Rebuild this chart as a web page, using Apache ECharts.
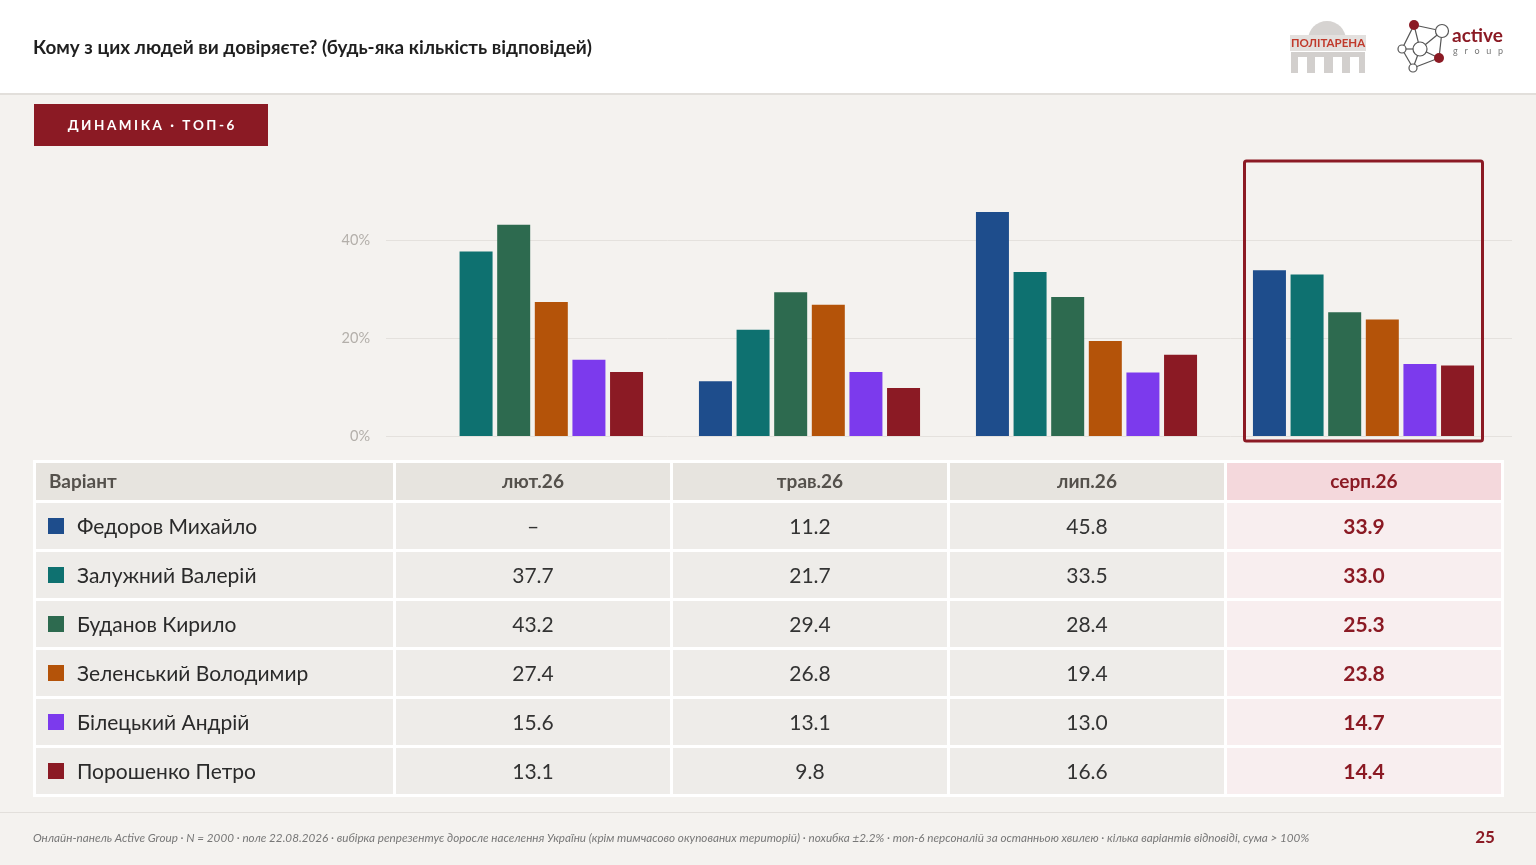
<!DOCTYPE html>
<html>
<head>
<meta charset="utf-8">
<script src="https://cdn.jsdelivr.net/npm/echarts@6/dist/echarts.min.js"></script>
<style>
  html, body { margin: 0; padding: 0; background: #f4f2ef; }
  #main { width: 1536px; height: 865px; }
</style>
</head>
<body>
<div id="main"></div>
<script>
// дані
var waves = ["лют.26", "трав.26", "лип.26", "серп.26"];
var persons = ["Федоров Михайло", "Залужний Валерій", "Буданов Кирило", "Зеленський Володимир", "Білецький Андрій", "Порошенко Петро"];
var fedorov = [null, 11.2, 45.8, 33.9];
var zaluzhnyi = [37.7, 21.7, 33.5, 33.0];
var budanov = [43.2, 29.4, 28.4, 25.3];
var zelensky = [27.4, 26.8, 19.4, 23.8];
var biletsky = [15.6, 13.1, 13.0, 14.7];
var poroshenko = [13.1, 9.8, 16.6, 14.4];
var yTicks = [0, 20, 40];

var values = [fedorov, zaluzhnyi, budanov, zelensky, biletsky, poroshenko];
var colors = ["#1e4d8c", "#0e7170", "#2d6a4f", "#b45309", "#7c3aed", "#8b1a24"];
var brand = "#8b1a24";
var font = 'Lato, "Noto Sans", sans-serif';

var chart = echarts.init(document.getElementById("main"), null);

function txt(x, y, s, st) {
  var style = Object.assign({
    text: s, fill: "#333", font: "400 21px " + font,
    textAlign: "left", textVerticalAlign: "middle", verticalAlign: "middle"
  }, st || {});
  style.align = style.textAlign;
  return { type: "text", x: x, y: y, silent: true, style: style };
}
function rect(x, y, w, h, fill, extra) {
  return Object.assign({ type: "rect", silent: true, shape: { x: x, y: y, width: w, height: h }, style: { fill: fill } }, extra || {});
}
function spaced(s, sep) { return s.split("").join(sep); }

var g = [];
// шапка
g.push(rect(0, 0, 1536, 93, "#ffffff"));
g.push(rect(0, 93, 1536, 2, "#e2dfdb"));
g.push(txt(33, 48, "Кому з цих людей ви довіряєте? (будь-яка кількість відповідей)", { fill: "#1f1f1f", font: "700 18.9px " + font }));

// логотип Політарена
g.push({ type: "sector", silent: true, shape: { cx: 1327, cy: 40, r0: 0, r: 19, startAngle: Math.PI, endAngle: 2 * Math.PI }, style: { fill: "#d6d3d1" } });
g.push(rect(1290, 35, 76, 16, "#e3e0de"));
g.push(rect(1291, 52, 74, 21, "#d2cfcd"));
[1298, 1315, 1333, 1350].forEach(function (x) { g.push(rect(x, 57, 9, 16, "#ffffff")); });
g.push(txt(1328, 43, "ПОЛІТАРЕНА", { fill: "#c0392b", font: "700 11.5px " + font, textAlign: "center" }));

// логотип active group
var nodes = [[1414, 25, 5, true], [1442, 31, 6.5, false], [1420, 49, 7, false], [1402, 49, 4, false], [1439, 58, 5, true], [1413, 68, 4, false]];
var links = [[0, 1], [0, 3], [0, 2], [1, 2], [1, 4], [2, 3], [2, 4], [3, 5], [4, 5], [2, 5]];
links.forEach(function (l) {
  g.push({ type: "line", silent: true, shape: { x1: nodes[l[0]][0], y1: nodes[l[0]][1], x2: nodes[l[1]][0], y2: nodes[l[1]][1] }, style: { stroke: "#555", lineWidth: 1.2 } });
});
nodes.forEach(function (n) {
  g.push({ type: "circle", silent: true, shape: { cx: n[0], cy: n[1], r: n[2] }, style: n[3] ? { fill: brand } : { fill: "#fff", stroke: "#555", lineWidth: 1.2 } });
});
g.push(txt(1452, 36, "active", { fill: brand, font: "700 19px " + font }));
g.push(txt(1453, 51, spaced("group", "\u2003"), { fill: "#777", font: "400 9px " + font }));

// бейдж
g.push(rect(34, 104, 234, 42, brand));
g.push(txt(151, 126, spaced("ДИНАМІКА · ТОП-6", "\u2009\u200A"), { fill: "#fff", font: "700 13.5px " + font, textAlign: "center" }));

// таблиця
var colX = [36, 396, 673, 950, 1227];
var colW = [357, 274, 274, 274, 274];
var headY = 463, headH = 37, rowY0 = 503, rowH = 46, rowGap = 3;
g.push(rect(33, 460, 1471, 337, "#ffffff"));
var headers = ["Варіант"].concat(waves);
headers.forEach(function (h, c) {
  var hi = c === waves.length;
  g.push(rect(colX[c], headY, colW[c], headH, hi ? "#f4d8dc" : "#e7e4df"));
  if (c === 0) g.push(txt(colX[c] + 13, headY + headH / 2, h, { fill: "#55514c", font: "700 19px " + font }));
  else g.push(txt(colX[c] + colW[c] / 2, headY + headH / 2, h, { fill: hi ? brand : "#55514c", font: "700 19px " + font, textAlign: "center" }));
});
persons.forEach(function (p, r) {
  var y = rowY0 + r * (rowH + rowGap);
  var cy = y + rowH / 2 + 1;
  g.push(rect(colX[0], y, colW[0], rowH, "#eeece9"));
  g.push(rect(48, cy - 9, 16, 16, colors[r]));
  g.push(txt(77, cy, p, { fill: "#2a2a2a", font: "400 21px " + font }));
  waves.forEach(function (w, c) {
    var hi = c === waves.length - 1;
    var v = values[r][c];
    g.push(rect(colX[c + 1], y, colW[c + 1], rowH, hi ? "#f8eeef" : "#eeece9"));
    g.push(txt(colX[c + 1] + colW[c + 1] / 2, cy, v == null ? "–" : v.toFixed(1), {
      fill: hi ? brand : "#333", font: (hi ? "700 " : "400 ") + "21px " + font, textAlign: "center"
    }));
  });
});

// підвал
g.push(rect(0, 812, 1536, 1, "#e2dfdb"));
g.push(txt(33, 838, "Онлайн-панель Active Group · N = 2000 · поле 22.08.2026 · вибірка репрезентує доросле населення України (крім тимчасово окупованих територій) · похибка ±2.2% · топ-6 персоналій за останньою хвилею · кілька варіантів відповіді, сума > 100%", { fill: "#777", font: "italic 400 11.7px " + font }));
g.push(txt(1485, 838, "25", { fill: brand, font: "700 17px " + font, textAlign: "center" }));

var option = {
  backgroundColor: "#f4f2ef",
  animation: false,
  textStyle: { fontFamily: font },
  grid: { left: 394, right: 34, top: 162, bottom: 429, containLabel: false },
  xAxis: {
    type: "category",
    data: waves,
    axisLine: { show: false },
    axisTick: { show: false },
    axisLabel: { show: false }
  },
  yAxis: {
    type: "value",
    min: 0,
    max: 56,
    interval: 20,
    axisLine: { show: false },
    axisTick: { show: false },
    axisLabel: {
      showMaxLabel: false,
      margin: 24,
      color: "#b3afaa",
      fontSize: 14.5,
      fontFamily: font,
      formatter: function (v) { return yTicks.indexOf(v) >= 0 ? v + "%" : ""; }
    },
    splitLine: { show: false }
  },
  series: persons.map(function (p, i) {
    return {
      name: p,
      type: "bar",
      data: values[i],
      barWidth: 33,
      barGap: "14%",
      silent: true,
      z: 3,
      itemStyle: { color: colors[i] }
    };
  }),
  graphic: { elements: g }
};

chart.setOption(option);

// лінії сітки трохи ширші за область графіка, рамка навколо останньої хвилі
var extra = yTicks.map(function (t) {
  var yy = Math.round(chart.convertToPixel({ yAxisIndex: 0 }, t)) + 0.5;
  return { type: "line", silent: true, z: -1, shape: { x1: 386, y1: yy, x2: 1512, y2: yy }, style: { stroke: "#e4e1dd", lineWidth: 1 } };
});
var cx = chart.convertToPixel({ xAxisIndex: 0 }, waves[waves.length - 1]);
var yTop = chart.convertToPixel({ yAxisIndex: 0 }, 56);
var yBase = chart.convertToPixel({ yAxisIndex: 0 }, 0);
extra.push({
  type: "rect", silent: true, z: 10,
  shape: { x: cx - 119, y: yTop - 1, width: 238, height: yBase - yTop + 6, r: 2 },
  style: { fill: "none", stroke: brand, lineWidth: 3 }
});
chart.setOption({ graphic: { elements: g.concat(extra) } });
</script>
</body>
</html>
